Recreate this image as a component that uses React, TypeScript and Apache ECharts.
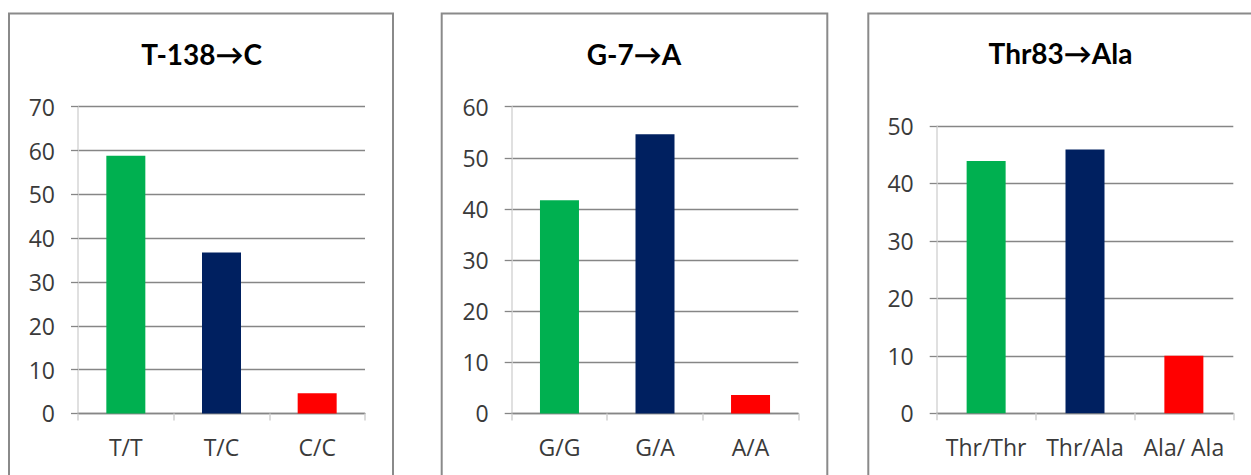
import React, { useEffect, useRef } from "react";
import * as echarts from "echarts";

// Genotype frequencies (%) for three polymorphisms
const titles = ["T-138→C", "G-7→A", "Thr83→Ala"];
const categoriesT138C = ["T/T", "T/C", "C/C"];
const valuesT138C = [58.8, 36.7, 4.6];
const categoriesG7A = ["G/G", "G/A", "A/A"];
const valuesG7A = [41.7, 54.6, 3.6];
const categoriesThr83Ala = ["Thr/Thr", "Thr/Ala", "Ala/ Ala"];
const valuesThr83Ala = [43.9, 45.9, 10];
const axisMax = [70, 60, 50];
const barColors = ["#00B050", "#002060", "#FF0000"];

// Panel geometry (frame, title centre, plot area)
const panels = [
  { frameX: 9, frameW: 384, titleX: 201.7, titleY: 54, grid: { left: 78, top: 106.7, width: 287, height: 306.7 } },
  { frameX: 441.7, frameW: 385.6, titleX: 634, titleY: 54, grid: { left: 511.7, top: 106.7, width: 286.6, height: 306.7 } },
  { frameX: 868.3, frameW: 420, titleX: 1060.5, titleY: 53, grid: { left: 936.7, top: 126, width: 296.6, height: 287.3 } },
];

const LABEL_FONT = "'Open Sans', 'Noto Sans', sans-serif";
const TITLE_FONT = "Lato, 'DejaVu Sans', sans-serif";

export default function App() {
  const ref = useRef<HTMLDivElement>(null);

  useEffect(() => {
    if (!ref.current) return;
    const chart = echarts.init(ref.current, null, { renderer: "svg" });
    const cats = [categoriesT138C, categoriesG7A, categoriesThr83Ala];
    const vals = [valuesT138C, valuesG7A, valuesThr83Ala];

    const graphic: any[] = [];
    panels.forEach((p, i) => {
      graphic.push({
        type: "rect",
        shape: { x: p.frameX, y: 13.5, width: p.frameW, height: 520 },
        style: { fill: "#ffffff", stroke: "#8a8a8a", lineWidth: 2 },
        z: -10,
      });
      graphic.push({
        type: "text",
        x: p.titleX,
        y: p.titleY,
        style: {
          text: titles[i],
          align: "center",
          verticalAlign: "middle",
          fontFamily: TITLE_FONT,
          fontWeight: "bold",
          fontSize: 28,
          fill: "#000000",
        },
      });
    });

    chart.setOption({
      animation: false,
      backgroundColor: "#ffffff",
      graphic,
      grid: panels.map((p) => ({ ...p.grid, containLabel: false })),
      xAxis: panels.map((_, i) => ({
        type: "category",
        gridIndex: i,
        data: cats[i],
        axisLine: { show: true, lineStyle: { color: "#868686", width: 1.3 } },
        axisTick: { show: true, length: 7, alignWithLabel: false, lineStyle: { color: "#d0d0d0", width: 1.5 } },
        axisLabel: { color: "#3a3a3a", fontFamily: LABEL_FONT, fontSize: 23, margin: 22, interval: 0 },
        splitLine: { show: false },
      })),
      yAxis: panels.map((_, i) => ({
        type: "value",
        gridIndex: i,
        min: 0,
        max: axisMax[i],
        interval: 10,
        axisLine: { show: true, lineStyle: { color: "#d6d6d6", width: 1.5 } },
        axisTick: { show: true, length: 7, lineStyle: { color: "#868686", width: 1.3 } },
        axisLabel: { color: "#3a3a3a", fontFamily: LABEL_FONT, fontSize: 23, margin: 23 },
        splitLine: { show: true, lineStyle: { color: "#868686", width: 1.3 } },
      })),
      series: panels.map((_, i) => ({
        type: "bar",
        xAxisIndex: i,
        yAxisIndex: i,
        barWidth: 39,
        data: vals[i].map((v, j) => ({ value: v, itemStyle: { color: barColors[j] } })),
        z: 3,
      })),
    });
    return () => chart.dispose();
  }, []);

  return (
    <div
      ref={ref}
      style={{ position: "fixed", left: 0, top: 0, width: 1251, height: 475, background: "#fff" }}
    />
  );
}
